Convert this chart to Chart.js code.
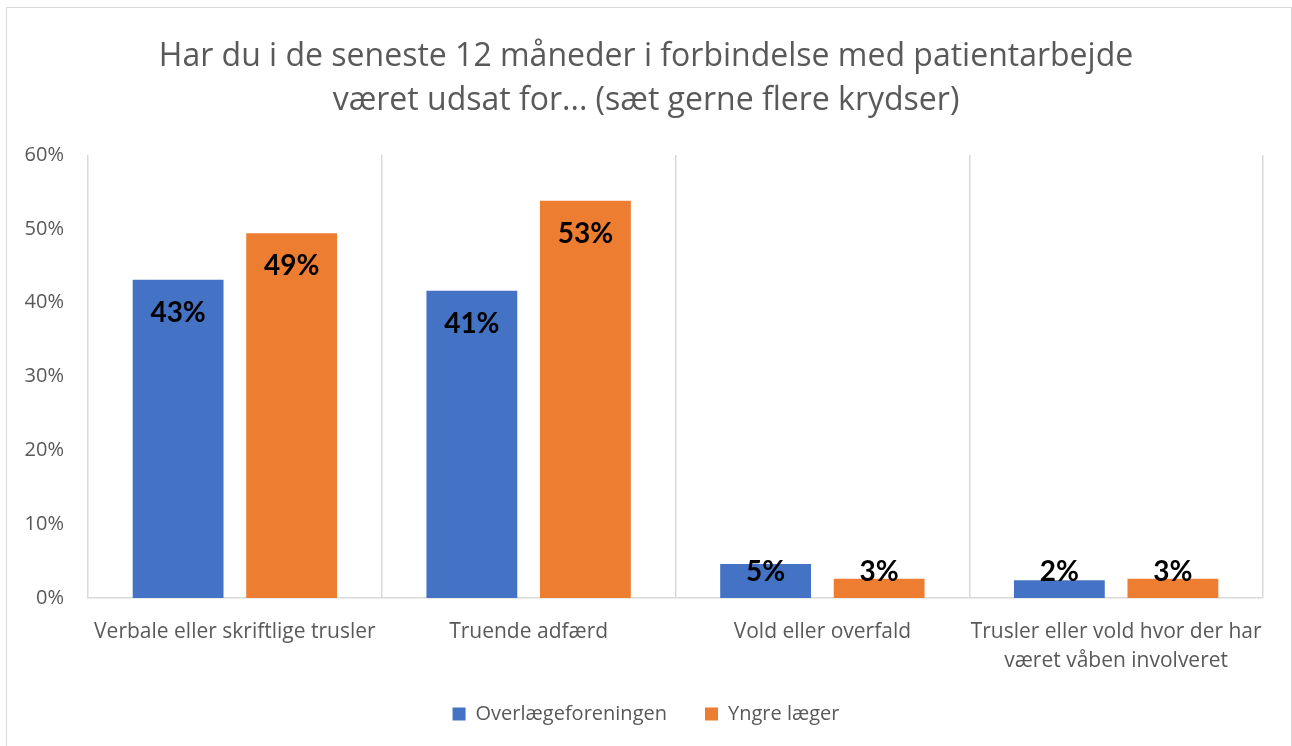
<!DOCTYPE html>
<html>
<head>
<meta charset="utf-8">
<script src="https://cdn.jsdelivr.net/npm/chart.js@4/dist/chart.umd.min.js"></script>
<style>
  html, body { margin: 0; padding: 0; background: #fff; overflow: hidden; }
  #frame { position: absolute; left: 6px; top: 7px; width: 1284px; height: 800px; border: 1.5px solid #d9d9d9; }
  #wrap { position: absolute; left: 0; top: 0; width: 1292px; height: 746px; }
</style>
</head>
<body>
<div id="frame"></div>
<div id="wrap"><canvas id="chart" width="1292" height="746"></canvas></div>
<script>
var categories = [
  'Verbale eller skriftlige trusler',
  'Truende adfærd',
  'Vold eller overfald',
  ['Trusler eller vold hvor der har', 'været våben involveret']
];
var seriesNames = ['Overlægeforeningen', 'Yngre læger'];
// bar heights (percent)
var overlaegeValues = [43.1, 41.6, 4.6, 2.4];
var yngreValues = [49.4, 53.8, 2.6, 2.6];
// the printed data labels
var overlaegeLabels = ['43%', '41%', '5%', '2%'];
var yngreLabels = ['49%', '53%', '3%', '3%'];
var yTicks = [0, 10, 20, 30, 40, 50, 60];

var FONT = '"Open Sans", Lato, sans-serif';
var GREY = '#595959';

var barLabels = {
  id: 'barLabels',
  afterLayout: function(chart) {
    // x labels are clipped to the axis box, let the 2-line label hang out below it
    chart.scales.x.bottom += 20;
  },
  afterDatasetsDraw: function(chart) {
    var ctx = chart.ctx;
    var base = chart.scales.y.getPixelForValue(0);
    ctx.save();
    ctx.font = 'bold 28px Lato, "Open Sans", sans-serif';
    ctx.fillStyle = '#000';
    ctx.textAlign = 'center';
    ctx.textBaseline = 'middle';
    chart.data.datasets.forEach(function(ds, di) {
      var meta = chart.getDatasetMeta(di);
      meta.data.forEach(function(bar, i) {
        var y = Math.min(bar.y + 33, base - 26);
        ctx.fillText(ds.printed[i], bar.x, y);
      });
    });
    ctx.restore();
  }
};

var ctx = document.getElementById('chart').getContext('2d');
var chart = new Chart(ctx, {
  type: 'bar',
  data: {
    labels: categories,
    datasets: [
      {
        label: seriesNames[0],
        data: overlaegeValues,
        printed: overlaegeLabels,
        backgroundColor: '#4472C4'
      },
      {
        label: seriesNames[1],
        data: yngreValues,
        printed: yngreLabels,
        backgroundColor: '#ED7D31'
      }
    ]
  },
  options: {
    responsive: false,
    animation: false,
    categoryPercentage: 0.773,
    barPercentage: 0.8,
    layout: { padding: { left: 0, right: 0, top: 0, bottom: 12 } },
    plugins: {
      title: {
        display: true,
        text: ['Har du i de seneste 12 måneder i forbindelse med patientarbejde', 'været udsat for... (sæt gerne flere krydser)'],
        color: GREY,
        font: { family: FONT, size: 32, weight: 'normal', lineHeight: '44px' },
        padding: { top: 35, bottom: 32 }
      },
      legend: {
        position: 'bottom',
        labels: {
          color: GREY,
          font: { family: FONT, size: 20 },
          boxWidth: 13,
          boxHeight: 13,
          padding: 38
        }
      },
      tooltip: { enabled: false }
    },
    scales: {
      x: {
        grid: { display: true, color: '#d9d9d9', lineWidth: 1.5, drawTicks: false, offset: true },
        border: { display: true, color: '#d9d9d9', width: 1.5 },
        ticks: { color: GREY, font: { family: FONT, size: 21, lineHeight: 1.38 }, padding: 20, maxRotation: 0, autoSkip: false },
        afterFit: function(s) { s.height = 68; }
      },
      y: {
        min: 0,
        max: 60,
        grid: { display: false },
        border: { display: false },
        ticks: {
          stepSize: 10,
          color: GREY,
          padding: 16,
          font: { family: FONT, size: 20 },
          callback: function(v) { return yTicks.indexOf(v) >= 0 ? v + '%' : ''; }
        },
        afterFit: function(s) { s.width = 88; }
      },
      // empty right margin so title and legend stay centred on the page
      yRight: {
        position: 'right',
        min: 0,
        max: 60,
        grid: { display: false },
        border: { display: false },
        ticks: { display: false },
        afterFit: function(s) { s.width = 29; }
      }
    }
  },
  plugins: [barLabels]
});
</script>
</body>
</html>
